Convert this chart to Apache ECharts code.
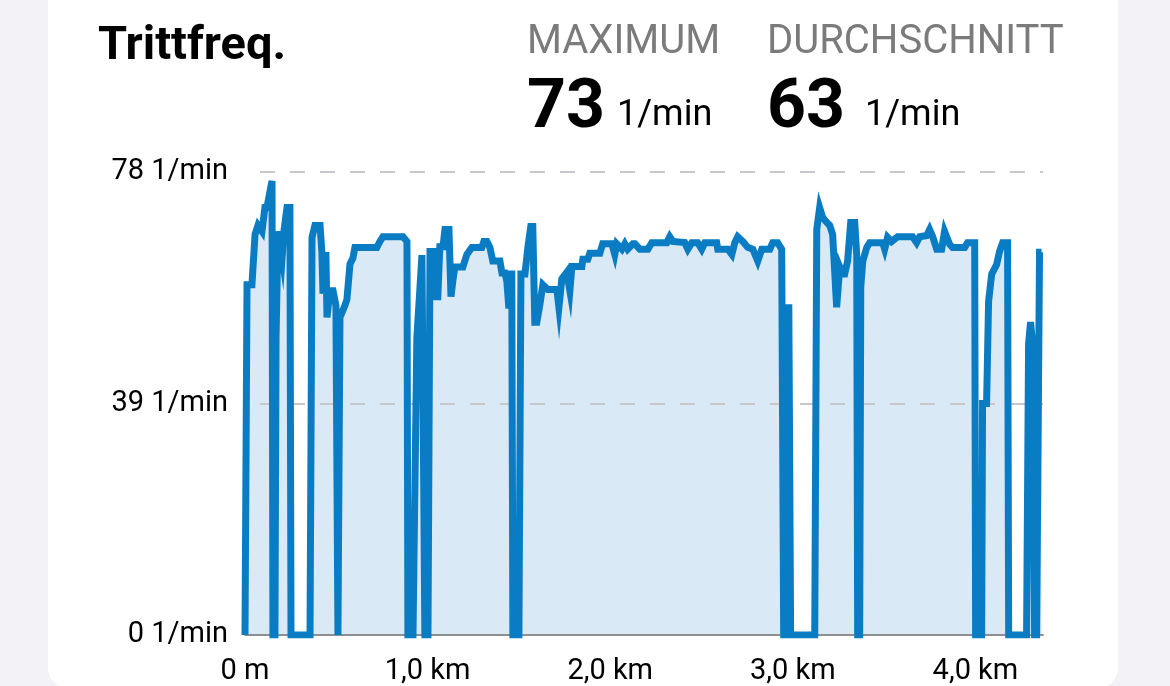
<!DOCTYPE html>
<html>
<head>
<meta charset="utf-8">
<script src="https://cdn.jsdelivr.net/npm/echarts@6/dist/echarts.min.js"></script>
<style>
  html, body { margin:0; padding:0; width:1170px; height:686px; overflow:hidden; background:#f2f2f7; }
  #card { position:absolute; left:48px; top:-40px; width:1070px; height:728px; background:#fff; border-radius:20px; }
  #chart { position:absolute; left:0; top:0; width:1170px; height:686px; }
</style>
</head>
<body>
<div id="card"></div>
<div id="chart"></div>
<script>
// ---- data (distance in km, cadence in 1/min) ----
const distanceKm = [
  0, 0.011, 0.038, 0.055, 0.071, 0.093, 0.109, 0.120, 0.148, 0.153,
  0.164, 0.170, 0.181, 0.203, 0.213, 0.230, 0.246, 0.252, 0.356, 0.367,
  0.383, 0.411, 0.421, 0.427, 0.443, 0.449, 0.465, 0.482, 0.498, 0.509,
  0.520, 0.547, 0.558, 0.575, 0.591, 0.602, 0.722, 0.739, 0.755, 0.865,
  0.887, 0.892, 0.920, 0.941, 0.969, 0.985, 1.002, 1.013, 1.029, 1.034,
  1.056, 1.067, 1.084, 1.095, 1.117, 1.128, 1.138, 1.149, 1.193, 1.215,
  1.242, 1.297, 1.308, 1.325, 1.341, 1.357, 1.396, 1.407, 1.423, 1.434,
  1.445, 1.450, 1.461, 1.467, 1.500, 1.511, 1.533, 1.549, 1.565, 1.576,
  1.587, 1.598, 1.615, 1.631, 1.658, 1.708, 1.719, 1.735, 1.762, 1.779,
  1.790, 1.845, 1.850, 1.877, 1.888, 1.943, 1.959, 2.009, 2.025, 2.036,
  2.064, 2.080, 2.096, 2.124, 2.135, 2.162, 2.206, 2.228, 2.310, 2.326,
  2.343, 2.408, 2.425, 2.447, 2.479, 2.501, 2.518, 2.583, 2.589, 2.644,
  2.666, 2.682, 2.698, 2.726, 2.753, 2.781, 2.808, 2.830, 2.874, 2.890,
  2.917, 2.939, 2.950, 2.967, 2.978, 2.988, 3.120, 3.131, 3.147, 3.164,
  3.186, 3.202, 3.218, 3.240, 3.257, 3.273, 3.284, 3.300, 3.317, 3.339,
  3.350, 3.355, 3.366, 3.372, 3.383, 3.405, 3.421, 3.492, 3.503, 3.519,
  3.541, 3.574, 3.656, 3.678, 3.695, 3.733, 3.749, 3.766, 3.788, 3.815,
  3.831, 3.859, 3.875, 3.941, 3.957, 3.996, 4.001, 4.034, 4.039, 4.061,
  4.072, 4.089, 4.116, 4.132, 4.149, 4.176, 4.182, 4.280, 4.291, 4.302,
  4.313, 4.324, 4.335, 4.351, 4.362
];
const cadence = [
  0, 59, 59, 67.5, 69, 68, 72, 72, 76.5, 0,
  0, 50, 68, 63.5, 68, 72, 72, 0, 0, 67,
  69, 69, 64.5, 57.5, 64.5, 53.5, 58, 58, 55.5, 0,
  53.5, 55.5, 56.5, 62.5, 63.5, 65.3, 65.3, 66.3, 67.1, 67.1,
  66.3, 0, 0, 50, 64, 0, 0, 64.6, 64.6, 57,
  57, 65.4, 65.4, 68.3, 68.3, 57, 59.6, 62, 62, 64.1,
  65.3, 65.3, 66.3, 66.3, 65.3, 63, 63, 61, 61, 59.6,
  55, 60.8, 60.8, 0, 0, 60.8, 60.8, 65.3, 68.8, 68.8,
  52.7, 52.7, 55.7, 59, 58.2, 58.2, 55.2, 60, 61.1, 58,
  62.1, 62.1, 63.3, 63.3, 64.3, 64.3, 65.9, 65.9, 64.1, 65.9,
  65, 65.9, 65, 65.9, 65.9, 65, 65, 66.1, 66.1, 67.1,
  66.3, 66.1, 65, 66.1, 66.1, 65, 66.1, 66.1, 65, 65,
  64.1, 66.1, 67.1, 66.3, 65.3, 65, 63, 65, 65, 66.1,
  66.1, 65, 0, 0, 55.7, 0, 0, 68.3, 72, 70.3,
  69.5, 69, 67.5, 55.2, 62, 60.8, 60.8, 63, 69.5, 69.5,
  64, 0, 0, 58.6, 63, 65.3, 66.1, 66.1, 65, 67,
  66.3, 67.1, 67.1, 66.1, 67.1, 67.3, 68.3, 67.1, 65, 65,
  68, 65.8, 65.3, 65.3, 66.1, 66.1, 0, 0, 39, 39,
  56.2, 60.8, 62.4, 64.6, 66.1, 66.1, 0, 0, 49, 52.7,
  49, 0, 0, 64.5, 64.5
];
const yTicks = [0, 39, 78];
const yUnit = '1/min';
const xTickKm = [0, 1, 2, 3, 4];
const xTickLabels = ['0 m', '1,0 km', '2,0 km', '3,0 km', '4,0 km'];
const xMaxKm = 4.37;
const titleText = 'Trittfreq.';
const statLabels = ['MAXIMUM', 'DURCHSCHNITT'];
const statValues = [73, 63];

const FONT = 'Roboto, "Noto Sans", sans-serif';
const points = distanceKm.map((d, i) => [d, cadence[i]]);

const chart = echarts.init(document.getElementById('chart'), null, { renderer: 'canvas' });
chart.setOption({
  backgroundColor: 'transparent',
  animation: false,
  grid: { left: 245, right: 127, top: 172, bottom: 48, containLabel: false },
  xAxis: {
    type: 'value', min: 0, max: xMaxKm, interval: 1, z: 3,
    axisLine: { show: true, lineStyle: { color: '#8e8e93', width: 2 } },
    axisTick: { show: false },
    splitLine: { show: false },
    axisLabel: {
      show: true, margin: 22, color: '#000', fontSize: 29, fontFamily: FONT,
      showMaxLabel: false,
      formatter: v => { const i = xTickKm.indexOf(v); return i >= 0 ? xTickLabels[i] : ''; }
    }
  },
  yAxis: {
    type: 'value', min: yTicks[0], max: yTicks[yTicks.length - 1], interval: yTicks[1] - yTicks[0], z: 3,
    axisLine: { show: false }, axisTick: { show: false },
    splitLine: { show: true, lineStyle: { color: '#c7c7cc', width: 2, type: [15, 15], dashOffset: 15 } },
    axisLabel: { margin: 17, color: '#000', fontSize: 29, fontFamily: FONT, padding: [6, 0, 0, 0], formatter: v => v + ' ' + yUnit }
  },
  series: [
    {
      type: 'line', data: points, showSymbol: false, symbol: 'none',
      lineStyle: { width: 0, opacity: 0 },
      areaStyle: { color: '#d9e9f6', opacity: 1 },
      z: 1, silent: true
    },
    {
      type: 'line', data: points, showSymbol: false, symbol: 'none',
      lineStyle: { color: '#0a7cc3', width: 7, join: 'miter' },
      z: 5
    }
  ],
  graphic: [
    { type: 'text', left: 98, top: 24, style: { text: titleText, fill: '#000', font: 'bold 47px ' + FONT } },
    { type: 'text', left: 527, top: 23, style: { text: statLabels[0], fill: '#7b7b7b', font: '40px ' + FONT } },
    { type: 'text', left: 767, top: 23, style: { text: statLabels[1], fill: '#7b7b7b', font: '40px ' + FONT } },
    { type: 'text', left: 527, top: 76, style: { text: String(statValues[0]), fill: '#000', font: 'bold 68px ' + FONT } },
    { type: 'text', left: 617, top: 98, style: { text: yUnit, fill: '#000', font: '36px ' + FONT } },
    { type: 'text', left: 767, top: 76, style: { text: String(statValues[1]), fill: '#000', font: 'bold 68px ' + FONT } },
    { type: 'text', left: 865, top: 98, style: { text: yUnit, fill: '#000', font: '36px ' + FONT } }
  ]
});
</script>
</body>
</html>
